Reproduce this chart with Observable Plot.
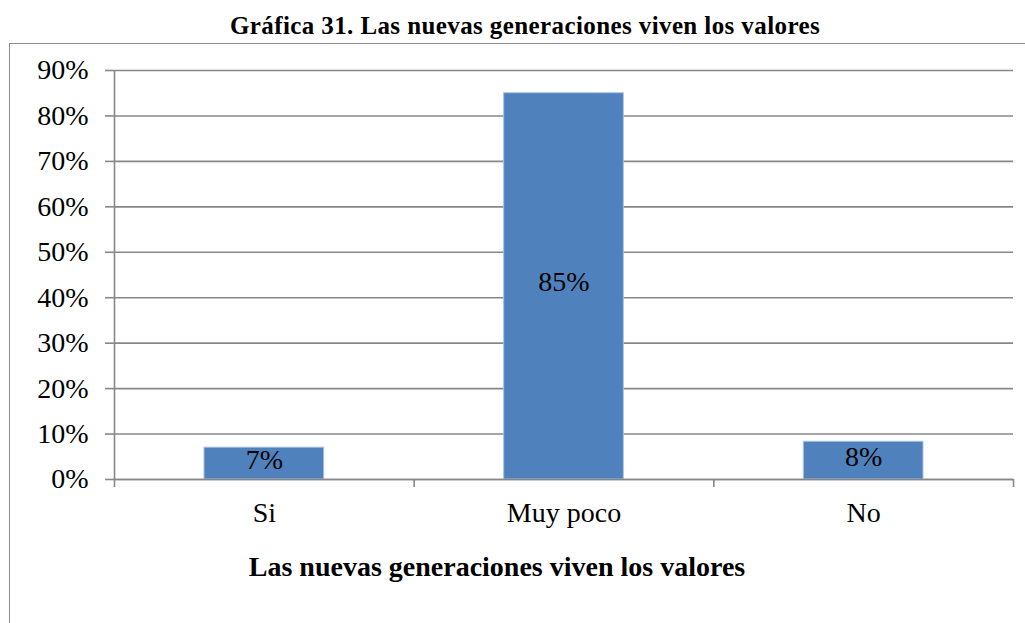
<!DOCTYPE html>
<html>
<head>
<meta charset="utf-8">
<script src="https://cdn.jsdelivr.net/npm/d3@7"></script>
<script src="https://cdn.jsdelivr.net/npm/@observablehq/plot@0.6"></script>
<style>
  html, body { margin: 0; padding: 0; background: #fff; overflow: hidden; }
  #wrap { position: relative; width: 1025px; height: 623px; overflow: hidden; font-family: "Liberation Serif", "Times New Roman", serif; }
  #box { position: absolute; left: 9px; top: 43px; width: 1100px; height: 700px; border: 1.5px solid #8c8c8c; box-sizing: border-box; }
  #title { position: absolute; left: 0; width: 1050px; top: 12px; text-align: center; font-size: 25px; line-height: 28px; font-weight: bold; letter-spacing: 0.4px; color: #000; }
  #xtitle { position: absolute; left: 0; width: 994px; top: 551px; text-align: center; font-size: 28px; line-height: 32px; font-weight: bold; color: #000; }
  #chart { position: absolute; left: 0; top: 0; }
  #chart svg, #chart svg text { font-family: "Liberation Serif", "Times New Roman", serif !important; }
</style>
</head>
<body>
<div id="wrap">
  <div id="box"></div>
  <div id="chart"></div>
  <div id="title"></div>
  <div id="xtitle"></div>
</div>
<script>
const titleText = "Gráfica 31. Las nuevas generaciones viven los valores";
const xTitleText = "Las nuevas generaciones viven los valores";
const categories = ["Si", "Muy poco", "No"];
const values = [0.07, 0.85, 0.083];
const yTicks = [0, 0.1, 0.2, 0.3, 0.4, 0.5, 0.6, 0.7, 0.8, 0.9];

document.getElementById("title").textContent = titleText;
document.getElementById("xtitle").textContent = xTitleText;

const data = categories.map((c, i) => ({cat: c, value: values[i], i}));
const pct = d3.format(".0%");
const gray = "#878787";
const serif = "'Liberation Serif', 'Times New Roman', serif";

const chart = Plot.plot({
  width: 1025,
  height: 623,
  marginLeft: 114,
  marginRight: 12,
  marginTop: 70,
  marginBottom: 144,
  style: {fontFamily: serif, background: "transparent", color: "#000"},
  x: {type: "linear", domain: [0, categories.length]},
  y: {domain: [0, 0.9]},
  marks: [
    Plot.gridY(yTicks, {stroke: gray, strokeOpacity: 1, strokeWidth: 1.6}),
    Plot.rectY(data, {x1: d => d.i, x2: d => d.i + 1, y: "value", insetLeft: 90, insetRight: 90, fill: "#4F81BD", stroke: "#a9c1e0", strokeWidth: 1}),
    Plot.ruleX([0], {y1: 0, y2: 0.9, stroke: gray, strokeWidth: 1.6}),
    Plot.ruleY([0], {stroke: gray, strokeWidth: 1.6}),
    Plot.axisY({ticks: yTicks, tickFormat: pct, tickSize: 9, tickPadding: 17, fontSize: 28, fontFamily: serif, stroke: gray, strokeWidth: 1.6, strokeOpacity: 1, label: null}),
    Plot.axisX({ticks: d3.range(categories.length + 1), tickFormat: () => "", tickSize: 8, stroke: gray, strokeWidth: 1.6, strokeOpacity: 1, label: null}),
    Plot.axisX({ticks: data.map(d => d.i + 0.5), tickFormat: t => categories[Math.floor(t)], tickSize: 0, tickPadding: 23, fontSize: 28, fontFamily: serif, label: null}),
    Plot.text(data, {x: d => d.i + 0.5, y: d => d.value / 2, text: d => pct(d.value), fontSize: 28, fontFamily: serif, fill: "#000", dy: -4})
  ]
});
document.getElementById("chart").appendChild(chart);
</script>
</body>
</html>
